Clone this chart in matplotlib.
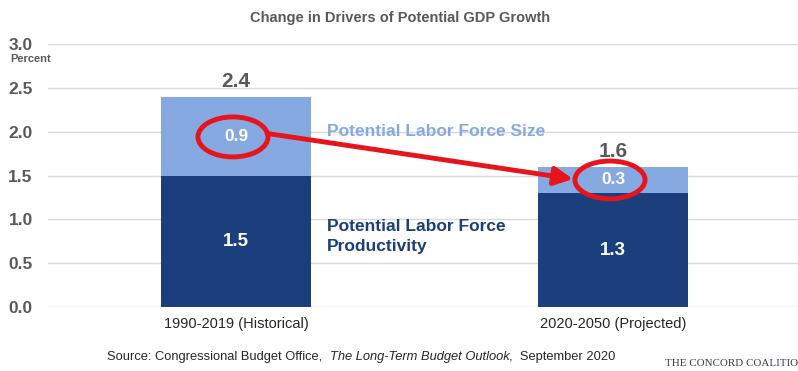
import matplotlib
matplotlib.use("Agg")
import matplotlib.pyplot as plt
from matplotlib.patches import Ellipse

# data (percent)
periods = ["1990-2019 (Historical)", "2020-2050 (Projected)"]
productivity = [1.5, 1.3]
labor_size = [0.9, 0.3]
totals = [2.4, 1.6]
yticks = [0.0, 0.5, 1.0, 1.5, 2.0, 2.5, 3.0]

DARK = "#1B3F7C"
LIGHT = "#86A9E2"
GRAY = "#595959"
RED = "#E8141B"

plt.rcParams['font.family'] = ['Liberation Sans', 'DejaVu Sans']

fig = plt.figure(figsize=(7.98, 3.71), dpi=100)
ax = fig.add_axes([48/798, 64/371, 750/798, 263/371])

x = list(range(len(periods)))
w = 0.398
ax.bar(x, productivity, width=w, color=DARK, zorder=2)
ax.bar(x, labor_size, width=w, bottom=productivity, color=LIGHT, zorder=2)

ax.set_xlim(-0.4987, 1.4907)
ax.set_ylim(0, 3.0)
for s in ax.spines.values():
    s.set_visible(False)
ax.set_yticks(yticks)
ax.yaxis.grid(True, color="#D9D9D9", linewidth=1, zorder=0)
ax.tick_params(axis='y', length=0, pad=11, labelsize=12.5, labelcolor=GRAY)
ax.set_yticklabels(["%.1f" % v for v in yticks], fontweight="bold")
ax.set_xticks(x)
ax.set_xticklabels(periods, fontsize=10.5, color="#262626")
ax.tick_params(axis='x', length=0, pad=7)

# value labels
for i in x:
    ax.text(i, totals[i] + 0.06, "%.1f" % totals[i], ha='center', va='bottom',
            fontsize=15, fontweight='bold', color=GRAY)
    ax.text(i, productivity[i] / 2, "%.1f" % productivity[i], ha='center', va='center',
            fontsize=13.5, fontweight='bold', color='white', zorder=4)
lab_y = [1.94, 1.45]
for i in x:
    ax.text(i, lab_y[i], "%.1f" % labor_size[i], ha='center', va='center',
            fontsize=12.5, fontweight='bold', color='white', zorder=4)

# series labels
ax.text(0.242, 2.0, "Potential Labor Force Size", ha='left', va='center',
        fontsize=12.5, fontweight='bold', color=LIGHT)
ax.text(0.242, 0.80, "Potential Labor Force\nProductivity", ha='left', va='center',
        fontsize=12.5, fontweight='bold', color=DARK, linespacing=1.4)

# highlight circles and arrow
ex = [-0.008, 0.992]
ew, eh = [0.186, 0.186], [0.456, 0.43]
for i in x:
    ax.add_patch(Ellipse((ex[i], lab_y[i]), ew[i], eh[i], fill=False,
                         edgecolor=RED, linewidth=3.5, zorder=5))
ax.annotate("", xy=(ex[1] - 0.098, 1.46), xytext=(ex[0] + 0.09, 1.98),
            arrowprops=dict(arrowstyle="-|>,head_length=1.1,head_width=0.55",
                            color=RED, lw=3.5, shrinkA=0, shrinkB=0), zorder=5)

fig.text(400/798, 1 - 18/371, "Change in Drivers of Potential GDP Growth", ha='center',
         va='center', fontsize=10.5, fontweight='bold', color=GRAY)
fig.text(10/798, 1 - 59/371, "Percent", ha='left', va='center', fontsize=8,
         fontweight='bold', color=GRAY)

# source line, pieces placed one after another
renderer = fig.canvas.get_renderer()
xpos = 107
for part, st in [("Source: Congressional Budget Office,  ", 'normal'),
                 ("The Long-Term Budget Outlook", 'italic'),
                 (",  September 2020", 'normal')]:
    t = fig.text(xpos/798, 1 - 357/371, part, ha='left', va='center',
                 fontsize=9.3, style=st, color="#262626")
    xpos += t.get_window_extent(renderer).width

fig.text(665/798, 1 - 364/371, "THE CONCORD COALITIO", ha='left', va='center',
         family=['Liberation Serif', 'DejaVu Serif'], fontsize=7.9, color="#3A3A4A")

fig.savefig("out.png", dpi=100)
